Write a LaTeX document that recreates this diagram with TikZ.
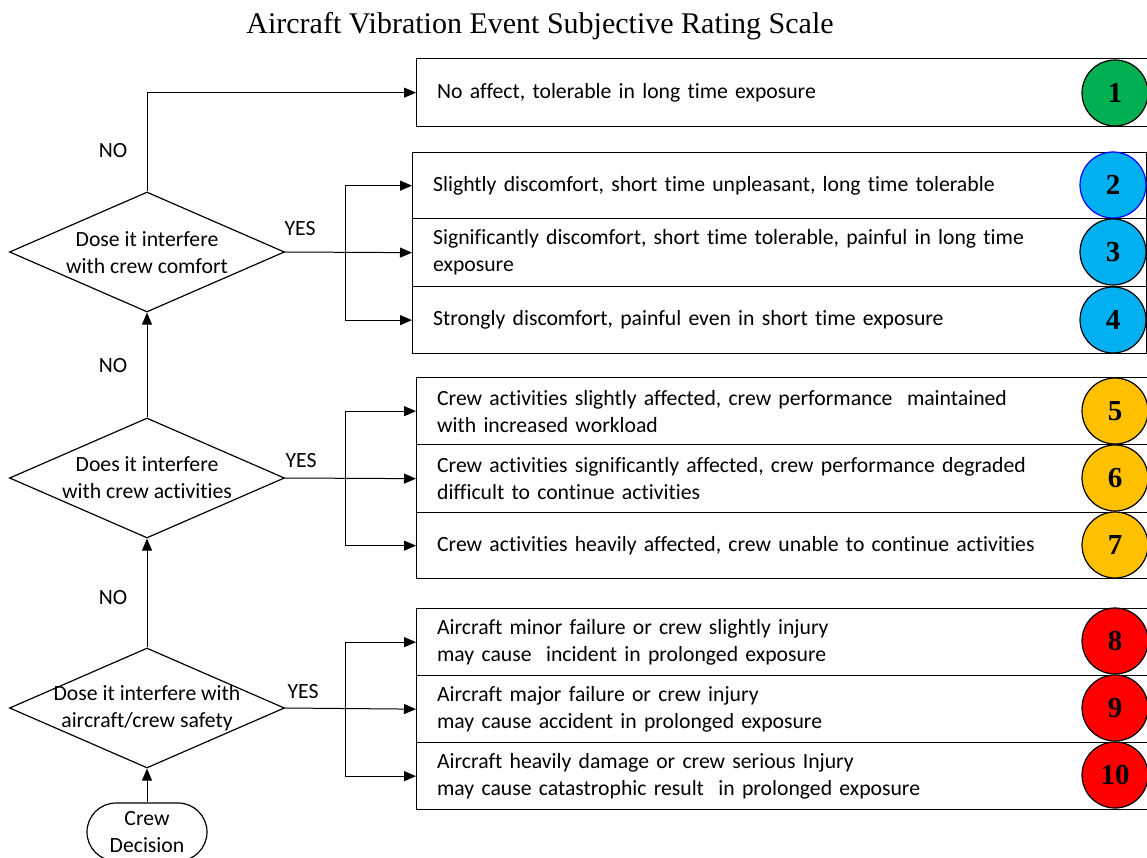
\documentclass[tikz,border=0pt]{standalone}
\usepackage{fontspec}
\setmainfont{Carlito}[Ligatures=NoCommon]
\newfontfamily\titlefont{Liberation Serif}
\usetikzlibrary{arrows.meta,shapes.geometric,shapes.misc}
\definecolor{cgreen}{HTML}{00B050}
\definecolor{cblue}{HTML}{00B0F0}
\definecolor{corange}{HTML}{FFC000}
\definecolor{cred}{HTML}{FF0000}
\definecolor{cblueline}{HTML}{0000FF}
\begin{document}
\begin{tikzpicture}[x=1pt,y=-1pt,
  txt/.style={font=\fontsize{21.7}{27}\selectfont},
  box/.style={draw, line width=1.3pt, rectangle, anchor=north west, inner xsep=20.5pt, inner ysep=0pt, align=left, txt},
  dia/.style={draw, line width=1.2pt, diamond, aspect=2.2917, minimum width=275pt, minimum height=120pt, inner sep=0pt},
  num/.style={circle, draw, line width=1.2pt, minimum size=66pt, inner sep=0pt, font=\titlefont\bfseries\fontsize{29}{29}\selectfont},
  conn/.style={line width=1pt},
  arr/.style={conn, -{Triangle[length=12pt,width=10pt]}},
  lbl/.style={txt, inner sep=0pt}
]
\useasboundingbox (0,0) rectangle (1147,858);
\clip (0,0) rectangle (1147,858);

\node[font=\titlefont\fontsize{30}{30}\selectfont] (title) at (540,26) {Aircraft Vibration Event Subjective Rating Scale};

% boxes
\node[box, text width=703pt, minimum height=68pt] (b1) at (416,58) {No affect, tolerable in long time exposure};
\node[box, text width=693pt, minimum height=66pt] (b2) at (412,152) {Slightly discomfort, short time unpleasant, long time tolerable};
\node[box, text width=693pt, minimum height=68pt] (b3) at (412,218) {Significantly discomfort, short time tolerable, painful in long time\\exposure};
\node[box, text width=693pt, minimum height=67pt] (b4) at (412,286) {Strongly discomfort, painful even in short time exposure};
\node[box, text width=703pt, minimum height=67pt] (b5) at (416,377) {Crew activities slightly affected, crew performance\ \ maintained\\with increased workload};
\node[box, text width=703pt, minimum height=68pt] (b6) at (416,444) {Crew activities significantly affected, crew performance degraded\\difficult to continue activities};
\node[box, text width=703pt, minimum height=66pt] (b7) at (416,512) {Crew activities heavily affected, crew unable to continue activities};
\node[box, text width=703pt, minimum height=67pt] (b8) at (416,608) {Aircraft minor failure or crew slightly injury\\may cause\ \ incident in prolonged exposure};
\node[box, text width=703pt, minimum height=67pt] (b9) at (416,675) {Aircraft major failure or crew injury\\may cause accident in prolonged exposure};
\node[box, text width=703pt, minimum height=67pt] (b10) at (416,742) {Aircraft heavily damage or crew serious Injury\\may cause catastrophic result\ \ in prolonged exposure};

% rating circles
\node[num, fill=cgreen] (n1) at (1115,93) {1};
\node[num, fill=cblue, draw=cblueline] (n2) at (1113,185) {2};
\node[num, fill=cblue] (n3) at (1113,252) {3};
\node[num, fill=cblue] (n4) at (1113,320) {4};
\node[num, fill=corange] (n5) at (1115,411) {5};
\node[num, fill=corange] (n6) at (1115,478) {6};
\node[num, fill=corange] (n7) at (1115,545) {7};
\node[num, fill=cred] (n8) at (1115,641) {8};
\node[num, fill=cred] (n9) at (1115,708) {9};
\node[num, fill=cred] (n10) at (1115,775) {10};

% decisions
\node[dia] (d1) at (147,252) {};
\node[txt, align=center, inner sep=0pt] (t1) at (147,253) {Dose it interfere\\with crew comfort};
\node[dia] (d2) at (147,478) {};
\node[txt, align=center, inner sep=0pt] (t2) at (147,478) {Does it interfere\\with crew activities};
\node[dia] (d3) at (147,708) {};
\node[txt, align=center, inner sep=0pt] (t3) at (147,708) {Dose it interfere with\\aircraft/crew safety};
\node[rounded rectangle, draw, line width=1.2pt, minimum width=120pt, minimum height=58pt, inner sep=0pt, txt, align=center] (cd) at (147,832) {Crew\\Decision};

% connectors
\draw[arr] (cd.north) -- (d3.south);
\draw[arr] (d3.north) -- (d2.south);
\draw[arr] (d2.north) -- (d1.south);
\draw[arr] (d1.north) |- (b1.west);

\coordinate (j1) at (345,252);
\coordinate (j2) at (345,478);
\coordinate (j3) at (345,708);
\draw[arr] (d1.east) -- (b3.west);
\draw[arr] (j1) |- (b2.west);
\draw[arr] (j1) |- (b4.west);
\draw[arr] (d2.east) -- (b6.west);
\draw[arr] (j2) |- (b5.west);
\draw[arr] (j2) |- (b7.west);
\draw[arr] (d3.east) -- (b9.west);
\draw[arr] (j3) |- (b8.west);
\draw[arr] (j3) |- (b10.west);

% labels
\node[lbl] (no1) at (113,151) {NO};
\node[lbl] (no2) at (113,366) {NO};
\node[lbl] (no3) at (113,598) {NO};
\node[lbl] (yes1) at (300,229) {YES};
\node[lbl] (yes2) at (301,461) {YES};
\node[lbl] (yes3) at (303,692) {YES};
\end{tikzpicture}
\end{document}
